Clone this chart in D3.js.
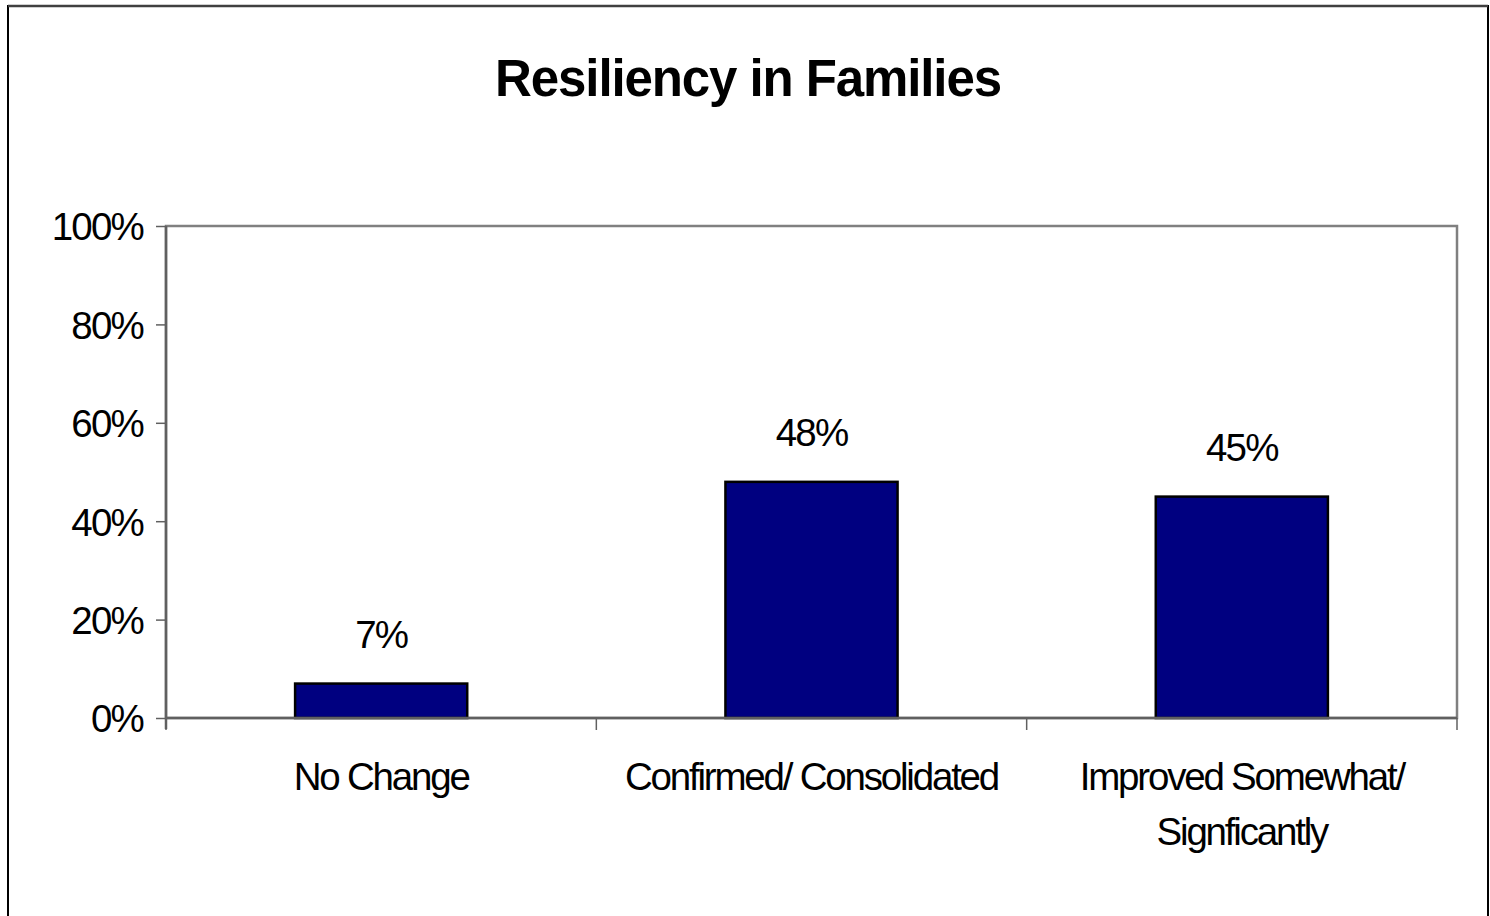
<!DOCTYPE html>
<html>
<head>
<meta charset="utf-8">
<script src="https://cdn.jsdelivr.net/npm/d3@7/dist/d3.min.js"></script>
<style>
  html, body { margin: 0; padding: 0; background: #fff; }
  svg { display: block; }
  text { font-family: "Liberation Sans", Arial, sans-serif; fill: #000; }
</style>
</head>
<body>
<svg id="chart" width="1490" height="916"></svg>
<script>
const title = "Resiliency in Families";
const categories = ["No Change", "Confirmed/ Consolidated", "Improved Somewhat/\nSignficantly"];
const values = [0.07, 0.48, 0.45];
const valueLabels = ["7%", "48%", "45%"];
const yTicks = [0, 0.2, 0.4, 0.6, 0.8, 1.0];

const svg = d3.select("#chart");
const plot = { left: 166, right: 1457, top: 226, bottom: 718 };

// outer chart border
svg.append("rect").attr("x", 8).attr("y", 6).attr("width", 1480).attr("height", 930)
  .attr("fill", "#fff").attr("stroke", "#000").attr("stroke-width", 2);
svg.append("line").attr("x1", 8).attr("x2", 1488).attr("y1", 6).attr("y2", 6)
  .attr("stroke", "#404040").attr("stroke-width", 2.5);

// title
svg.append("text").attr("x", 748).attr("y", 96).attr("text-anchor", "middle")
  .attr("font-size", 51).attr("font-weight", "bold").attr("letter-spacing", "-1.1px")
  .text(title);

const x = d3.scaleBand().domain(categories).range([plot.left, plot.right]).padding(0);
const y = d3.scaleLinear().domain([0, 1]).range([plot.bottom, plot.top]);

// plot area border
svg.append("rect").attr("x", plot.left).attr("y", plot.top)
  .attr("width", plot.right - plot.left).attr("height", plot.bottom - plot.top)
  .attr("fill", "none").attr("stroke", "#808080").attr("stroke-width", 2.5);

// bars
const bw = x.bandwidth() * 0.4;
svg.selectAll("rect.bar").data(values).enter().append("rect")
  .attr("class", "bar")
  .attr("x", (d, i) => x(categories[i]) + (x.bandwidth() - bw) / 2)
  .attr("y", d => y(d))
  .attr("width", bw)
  .attr("height", d => y(0) - y(d))
  .attr("fill", "#000080").attr("stroke", "#000").attr("stroke-width", 2.5);

// value labels
svg.selectAll("text.vlab").data(values).enter().append("text")
  .attr("class", "vlab")
  .attr("x", (d, i) => x(categories[i]) + x.bandwidth() / 2)
  .attr("y", d => y(d) - 36)
  .attr("text-anchor", "middle").attr("font-size", 38.5).attr("letter-spacing", "-1.8px")
  .text((d, i) => valueLabels[i]);

// y axis
const yAxis = d3.axisLeft(y).tickValues(yTicks).tickFormat(d3.format(".0%"))
  .tickSize(10).tickSizeOuter(0).tickPadding(13);
const gy = svg.append("g").attr("transform", `translate(${plot.left},0)`).call(yAxis);
gy.select(".domain").attr("stroke", "#606060").attr("stroke-width", 2.5)
  .attr("d", `M0,${plot.top}V${plot.bottom + 11}`);
gy.selectAll(".tick line").attr("stroke", "#606060").attr("stroke-width", 1.5);
gy.selectAll(".tick text").attr("font-size", 38.5).attr("letter-spacing", "-1.8px")
  .attr("font-family", "Liberation Sans, Arial, sans-serif").attr("fill", "#000").attr("dy", "0.36em");

// x axis line and boundary ticks
svg.append("line").attr("x1", plot.left).attr("x2", plot.right)
  .attr("y1", plot.bottom).attr("y2", plot.bottom)
  .attr("stroke", "#606060").attr("stroke-width", 2.5);
const bounds = categories.map(c => x(c)).concat([plot.right]);
svg.selectAll("line.xtick").data(bounds).enter().append("line")
  .attr("class", "xtick")
  .attr("x1", d => d).attr("x2", d => d)
  .attr("y1", plot.bottom).attr("y2", plot.bottom + 12)
  .attr("stroke", "#606060").attr("stroke-width", 1.5);

// category labels
categories.forEach(c => {
  const lines = c.split("\n");
  const t = svg.append("text").attr("text-anchor", "middle")
    .attr("font-size", 38.5).attr("letter-spacing", "-2.2px");
  lines.forEach((ln, j) => {
    t.append("tspan").attr("x", x(c) + x.bandwidth() / 2)
      .attr("y", 790 + j * 55).text(ln);
  });
});
</script>
</body>
</html>
